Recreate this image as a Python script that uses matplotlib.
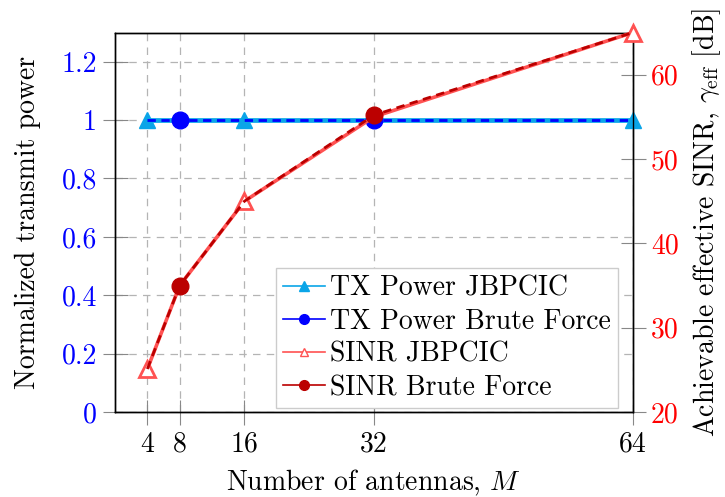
import matplotlib
matplotlib.use("Agg")
import matplotlib.pyplot as plt
from matplotlib.lines import Line2D

plt.rcParams["font.family"] = "serif"
plt.rcParams["font.serif"] = ["cmr10", "DejaVu Serif"]
plt.rcParams["mathtext.fontset"] = "cm"
plt.rcParams["axes.unicode_minus"] = False
plt.rcParams["font.size"] = 20

# data
antennas = [4, 8, 16, 32, 64]
tx_jbpcic = [1.0, 1.0, 1.0, 1.0, 1.0]
tx_brute = [1.0, 1.0, 1.0, 1.0, 1.0]
sinr_jbpcic = [25.1, 35.0, 45.0, 55.0, 65.0]
sinr_brute = [25.1, 35.0, 45.0, 55.2, 65.0]

left_ticks = [0, 0.2, 0.4, 0.6, 0.8, 1.0, 1.2]
left_labels = ["0", "0.2", "0.4", "0.6", "0.8", "1", "1.2"]
right_ticks = [20, 30, 40, 50, 60]
labels = ["TX Power JBPCIC", "TX Power Brute Force", "SINR JBPCIC", "SINR Brute Force"]

c_tx_j = "#0aa5e8"
c_tx_b = "#0000ff"
c_si_j = "#ff5252"
c_si_b = "#bb0000"

fig = plt.figure(figsize=(7.25, 4.97), dpi=100)
ax = fig.add_axes([0.1586, 0.171, 0.7144, 0.7636])
ax2 = ax.twinx()

# left axis: transmit power
ax.plot(antennas, tx_jbpcic, color=c_tx_j, lw=3.4, marker="^", ms=12,
        markevery=[0, 2, 4], zorder=3, clip_on=False)
ax.plot(antennas, tx_brute, color=c_tx_b, lw=2, dashes=(3, 2), marker="o", ms=12,
        markevery=[1, 3], zorder=4, clip_on=False)

# right axis: SINR
ax2.plot(antennas, sinr_jbpcic, color=c_si_j, lw=2.6, marker="^", ms=11,
         mfc="white", mec=c_si_j, mew=2, markevery=[0, 2, 4], zorder=3, clip_on=False)
ax2.plot(antennas, sinr_brute, color=c_si_b, lw=2, dashes=(3, 2), marker="o", ms=12,
         markevery=[1, 3], zorder=4, clip_on=False)

ax.set_xlim(0, 64)
ax.set_ylim(0, 1.3)
ax2.set_ylim(20, 65)
ax.set_xticks(antennas)
ax.set_xticklabels([str(a) for a in antennas])
ax.set_yticks(left_ticks)
ax.set_yticklabels(left_labels)
ax2.set_yticks(right_ticks)

ax.grid(True, color="#b4b4b4", linestyle=(0, (6, 5)), lw=0.9)
ax.tick_params(axis="both", direction="inout", length=18, width=0.8, color="#888888")
ax.tick_params(axis="x", pad=5)
ax.tick_params(axis="y", labelcolor="blue", pad=4)
ax2.tick_params(axis="y", direction="inout", length=18, width=0.8, color="#888888",
                labelcolor="red", pad=4)
for a in (ax, ax2):
    for s in a.spines.values():
        s.set_linewidth(1.0)

ax.set_xlabel("Number of antennas, $M$", labelpad=7)
ax.set_ylabel("Normalized transmit power", labelpad=15)
ax2.set_ylabel(r"Achievable effective SINR, $\gamma_{\mathrm{eff}}$ [dB]", labelpad=8)

handles = [
    Line2D([0], [0], color=c_tx_j, lw=1.2, marker="^", ms=7),
    Line2D([0], [0], color=c_tx_b, lw=1.2, marker="o", ms=7),
    Line2D([0], [0], color=c_si_j, lw=1.2, marker="^", ms=6, mfc="white", mec=c_si_j),
    Line2D([0], [0], color=c_si_b, lw=1.2, marker="o", ms=7),
]
leg = ax2.legend(handles, labels, loc="lower right", bbox_to_anchor=(0.971, 0.0105),
                 borderaxespad=0, fancybox=False, framealpha=1, edgecolor="#cccccc",
                 handlelength=1.5, handletextpad=0.2, labelspacing=0.25, borderpad=0.25)
leg.get_frame().set_linewidth(1.0)
leg.set_zorder(10)

fig.savefig("out.png", dpi=100)
